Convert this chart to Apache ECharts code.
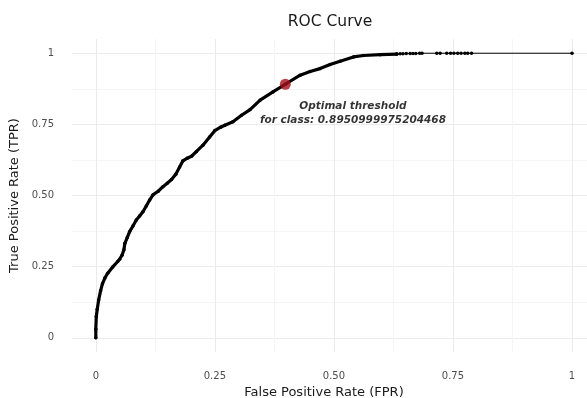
<!DOCTYPE html>
<html>
<head>
<meta charset="utf-8">
<script src="https://cdn.jsdelivr.net/npm/echarts@6/dist/echarts.min.js"></script>
<style>
  html, body { margin: 0; padding: 0; background: #fff; }
  #chart { width: 587px; height: 398px; }
</style>
</head>
<body>
<div id="chart"></div>
<script>
// ROC curve, dense part (fpr, tpr)
const fprCurve = [0, 0, 0.001, 0.003, 0.006, 0.01, 0.014, 0.019, 0.025, 0.035, 0.046, 0.05, 0.055, 0.059,
  0.061, 0.066, 0.071, 0.078, 0.085, 0.092, 0.099, 0.106, 0.113, 0.12, 0.131, 0.141, 0.15, 0.159,
  0.168, 0.176, 0.183, 0.192, 0.201, 0.211, 0.225, 0.239, 0.25, 0.262, 0.271, 0.288, 0.306, 0.324,
  0.345, 0.372, 0.398, 0.429, 0.45, 0.471, 0.492, 0.513, 0.541, 0.562, 0.597, 0.632];
const tprCurve = [0, 0.03, 0.075, 0.1, 0.133, 0.165, 0.19, 0.21, 0.227, 0.248, 0.268, 0.276, 0.29, 0.309,
  0.332, 0.352, 0.373, 0.393, 0.414, 0.428, 0.443, 0.463, 0.484, 0.502, 0.515, 0.531, 0.543, 0.556,
  0.575, 0.6, 0.622, 0.631, 0.638, 0.654, 0.677, 0.706, 0.728, 0.74, 0.747, 0.759, 0.782, 0.802,
  0.835, 0.864, 0.891, 0.923, 0.936, 0.946, 0.96, 0.972, 0.987, 0.992, 0.995, 0.997];

// sparse tail near TPR = 1
const fprTail = [0.632, 0.639, 0.645, 0.652, 0.66, 0.666, 0.672, 0.68, 0.685, 0.716, 0.723,
  0.737, 0.745, 0.752, 0.76, 0.767, 0.775, 0.781, 0.789, 1];
const tprTail = [0.997, 0.998, 0.998, 0.999, 0.999, 0.999, 0.999, 1, 1, 1, 1,
  1, 1, 1, 1, 1, 1, 1, 1, 1];

const optimalPoint = [0.398, 0.891];
const optimalLabel = 'Optimal threshold\nfor class: 0.8950999975204468';
const labelAt = [0.54, 0.789];

const majorTicks = [0, 0.25, 0.5, 0.75, 1];
const minorTicks = [0.125, 0.375, 0.625, 0.875];
const tickText = { 0: '0', 0.25: '0.25', 0.5: '0.50', 0.75: '0.75', 1: '1' };

const zip = (a, b) => a.map((v, i) => [v, b[i]]);
const font = 'DejaVu Sans';

function majorAxis(min, max, margin, extra) {
  return Object.assign({
    type: 'value', min: min, max: max,
    axisLine: { show: false },
    axisTick: { show: false, customValues: majorTicks },
    axisLabel: {
      customValues: majorTicks, color: '#4d4d4d', fontSize: 10, fontFamily: font, margin: margin,
      formatter: v => tickText[v] !== undefined ? tickText[v] : ''
    },
    splitLine: { show: true, customValues: majorTicks, lineStyle: { color: '#ebebeb', width: 1 } }
  }, extra);
}
function minorAxis(min, max) {
  return {
    type: 'value', min: min, max: max,
    axisLine: { show: false },
    axisTick: { show: false, customValues: minorTicks },
    axisLabel: { show: false, customValues: minorTicks },
    splitLine: { show: true, customValues: minorTicks, lineStyle: { color: '#f5f5f5', width: 1 } }
  };
}

const chart = echarts.init(document.getElementById('chart'));
chart.setOption({
  backgroundColor: '#fff',
  animation: false,
  title: {
    text: 'ROC Curve', left: 325, top: 9, textAlign: 'center',
    textStyle: { fontFamily: font, fontSize: 15.5, fontWeight: 'normal', color: '#1a1a1a' }
  },
  grid: { left: 72, right: 0, top: 39, bottom: 46, containLabel: false, outerBoundsMode: 'none' },
  xAxis: [
    majorAxis(-0.05, 1.0315, 19, {
      name: 'False Positive Rate (FPR)', nameLocation: 'middle', nameGap: 32,
      nameTextStyle: { fontFamily: font, fontSize: 13, color: '#1a1a1a', padding: [0, 11, 0, 0] }
    }),
    minorAxis(-0.05, 1.0315)
  ],
  yAxis: [
    majorAxis(-0.05, 1.05, 18, {
      name: 'True Positive Rate (TPR)', nameLocation: 'middle', nameGap: 47,
      nameTextStyle: { fontFamily: font, fontSize: 13, color: '#1a1a1a' }
    }),
    minorAxis(-0.05, 1.05)
  ],
  series: [
    {
      type: 'line', data: zip(fprTail, tprTail),
      lineStyle: { color: '#000', width: 1 },
      symbol: 'circle', symbolSize: 3.5, showSymbol: true,
      itemStyle: { color: '#000' }, z: 3
    },
    {
      type: 'line', data: zip(fprCurve, tprCurve),
      lineStyle: { color: '#000', width: 3.2, join: 'round', cap: 'round' },
      symbol: 'circle', symbolSize: 3.5, showSymbol: true,
      itemStyle: { color: '#000' }, z: 4
    },
    {
      type: 'scatter', data: [optimalPoint],
      symbolSize: 11, itemStyle: { color: '#a3101c' }, z: 5
    },
    {
      type: 'scatter', data: [labelAt], symbolSize: 0, z: 6,
      label: {
        show: true, position: 'inside', formatter: optimalLabel,
        fontFamily: font, fontSize: 10.5, fontStyle: 'italic', fontWeight: 'bold', color: '#000',
        textBorderColor: 'transparent', textBorderWidth: 0,
        lineHeight: 14, align: 'center'
      }
    }
  ]
});
</script>
</body>
</html>
